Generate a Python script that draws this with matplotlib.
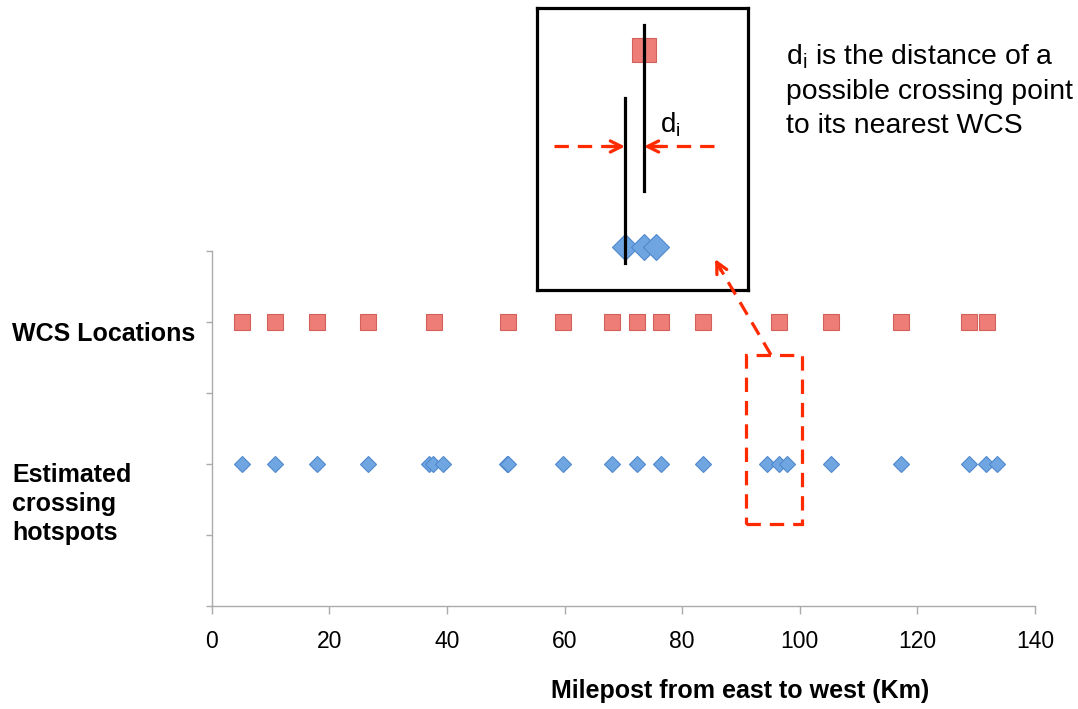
import numpy as np
import matplotlib.pyplot as plt
from matplotlib.patches import Rectangle

plt.rcParams['font.family'] = ['Liberation Sans', 'DejaVu Sans']

# milepost of each WCS (km)
wcs_km = [5.1, 10.8, 17.9, 26.6, 37.8, 50.4, 59.8, 68.1, 72.4, 76.4,
          83.6, 96.5, 105.3, 117.2, 128.8, 131.8]
# milepost of each estimated crossing hotspot (km)
hot_km = [5.1, 10.8, 17.9, 26.6, 37.0, 37.6, 39.3, 50.2, 50.4, 59.8,
          68.1, 72.4, 76.4, 83.6, 94.5, 96.5, 97.8, 105.3, 117.2, 128.8,
          131.7, 133.6]
wcs_row = 4
hot_row = 2
xticks = [0, 20, 40, 60, 80, 100, 120, 140]
# km window that is blown up in the inset
zoom_lo, zoom_hi = 90.85, 100.4

sq_face, sq_edge = '#EE7D78', '#D2605B'
dm_face, dm_edge = '#6FA6E2', '#5088CC'
red = '#FF2A00'
grey = '#ABABAB'
dash = (0, (4.5, 2.8))

W, H = 1078, 709
fig = plt.figure(figsize=(W / 100, H / 100), dpi=100)


def fx(x):
    return x / W


def fy(y):
    return 1 - y / H


ax = fig.add_axes([fx(211.7), fy(605.5), (1035 - 211.7) / W, (605.5 - 250.5) / H])
ax.plot(wcs_km, [wcs_row] * len(wcs_km), ls='none', marker='s', ms=11.5,
        mfc=sq_face, mec=sq_edge, mew=0.8, clip_on=False)
ax.plot(hot_km, [hot_row] * len(hot_km), ls='none', marker='D', ms=7.8,
        mfc=dm_face, mec=dm_edge, mew=0.8, clip_on=False)
ax.set_xlim(0, 140)
ax.set_ylim(0, 5)
ax.set_xticks(xticks)
ax.set_xticklabels([str(t) for t in xticks], fontsize=16.5)
ax.set_yticks([0, 1, 2, 3, 4, 5])
ax.set_yticklabels([])
for s in ['top', 'right']:
    ax.spines[s].set_visible(False)
for s in ['left', 'bottom']:
    ax.spines[s].set_color(grey)
    ax.spines[s].set_linewidth(1.0)
ax.tick_params(axis='x', colors=grey, length=6, width=1.0, pad=12, labelcolor='black')
ax.tick_params(axis='y', colors=grey, length=4, width=1.0)

# inset showing the distance d_i (transparent so the arrow tip shows)
ins = fig.add_axes([fx(537), fy(290), 211 / W, 282 / H])
ins.set_facecolor('none')
ins.set_xlim(85.24, 85.24 + 211 / 9.5)
ins.set_ylim(1.563, 4.426)
ins.set_xticks([])
ins.set_yticks([])
for s in ins.spines.values():
    s.set_linewidth(2.3)
    s.set_color('black')
near_wcs = [w for w in wcs_km if zoom_lo < w < zoom_hi]
near_hot = [h for h in hot_km if zoom_lo < h < zoom_hi]
ins.plot(near_wcs, [wcs_row] * len(near_wcs), ls='none', marker='s', ms=17,
         mfc=sq_face, mec=sq_edge, mew=0.8)
ins.plot(near_hot, [hot_row] * len(near_hot), ls='none', marker='D', ms=13,
         mfc=dm_face, mec=dm_edge, mew=0.8)
ins.plot([96.5, 96.5], [2.57, 4.25], color='black', lw=2.3)
ins.plot([94.5, 94.5], [1.84, 3.51], color='black', lw=2.3)
ins.plot([87.0, 93.6], [3.02, 3.02], color=red, lw=2.3, ls=dash)
ins.plot([103.9, 97.4], [3.02, 3.02], color=red, lw=2.3, ls=dash)
ins.annotate('', xy=(94.5, 3.02), xytext=(92.5, 3.02),
             arrowprops=dict(arrowstyle='->', color=red, lw=2.3, mutation_scale=20,
                             shrinkA=0, shrinkB=0))
ins.annotate('', xy=(96.5, 3.02), xytext=(98.5, 3.02),
             arrowprops=dict(arrowstyle='->', color=red, lw=2.3, mutation_scale=20,
                             shrinkA=0, shrinkB=0))
ins.text(98.2, 3.24, r'd$_\mathregular{i}$', fontsize=20, va='center', ha='left')

# dashed box around the zoomed cluster and arrow to the inset
ax.add_patch(Rectangle((zoom_lo, 1.15), zoom_hi - zoom_lo, 3.53 - 1.15, fill=False,
                       ec=red, lw=2.3, ls=dash, clip_on=False, zorder=5))
ax.set_zorder(3)
ax.patch.set_visible(False)
ax.plot([95.1, 86.3], [3.53, 4.77], color=red, lw=2.3, ls=dash,
        clip_on=False, zorder=5)
ax.annotate('', xy=(85.6, 4.88), xytext=(86.6, 4.72), annotation_clip=False,
            arrowprops=dict(arrowstyle='->', color=red, lw=2.3, mutation_scale=20,
                            shrinkA=0, shrinkB=0))

# texts
fig.text(fx(786), fy(42), 'd$_\\mathregular{i}$ is the distance of a\npossible crossing point\nto its nearest WCS',
         fontsize=20.4, va='top', ha='left', linespacing=1.4)
fig.text(fx(12), fy(334), 'WCS Locations', fontsize=18, fontweight='bold',
         va='center', ha='left')
fig.text(fx(12), fy(463), 'Estimated\ncrossing\nhotspots', fontsize=18, fontweight='bold',
         va='top', ha='left', linespacing=1.26)
fig.text(fx(740), fy(691), 'Milepost from east to west (Km)', fontsize=18,
         fontweight='bold', va='center', ha='center')

fig.savefig('out.png', dpi=100)
